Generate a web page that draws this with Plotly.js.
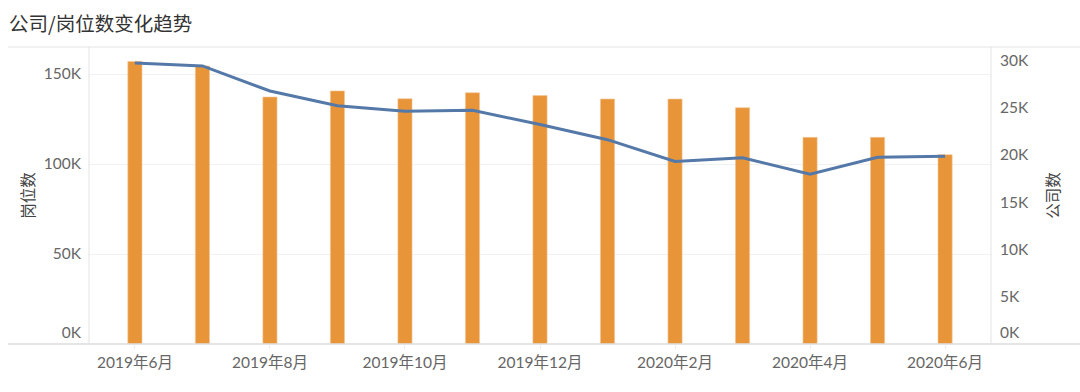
<!DOCTYPE html>
<html>
<head>
<meta charset="utf-8">
<script src="https://cdn.plot.ly/plotly-3.0.1.min.js"></script>
<style>html,body{margin:0;padding:0;background:#fff;}#chart{width:1080px;height:392px;}</style>
</head>
<body>
<div id="chart"></div>
<script>
const months = ['2019年6月','2019年7月','2019年8月','2019年9月','2019年10月','2019年11月','2019年12月','2020年1月','2020年2月','2020年3月','2020年4月','2020年5月','2020年6月'];
const jobCounts = [157000,154500,137200,140600,136300,139600,138000,136100,136100,131300,114800,114800,105200];
const companyCounts = [29700,29400,26750,25200,24600,24700,23200,21600,19300,19700,17950,19750,19850];
const xTickLabels = ['2019年6月','2019年8月','2019年10月','2019年12月','2020年2月','2020年4月','2020年6月'];
const leftTicks = [50000,100000,150000];
const leftTickText = ['50K','100K','150K'];
const rightTicks = [5000,10000,15000,20000,25000,30000];
const rightTickText = ['5K','10K','15K','20K','25K','30K'];
const zeroTick = [0];
const zeroTickText = ['0K'];

const FONT = 'Lato, "Noto Sans CJK SC", "Noto Sans", sans-serif';
const lineCol = '#e3e3e3';
const TICKFONT = {size:15.5, color:'#666'};

const traces = [
  {type:'bar', x: months, y: jobCounts, name:'岗位数', width:0.21,
   marker:{color:'#e8953a', line:{color:'#f3c89b', width:0.6}}, yaxis:'y'},
  {type:'scatter', mode:'lines', x: months, y: companyCounts, name:'公司数', yaxis:'y2',
   line:{color:'#5479a8', width:3}},
  {type:'scatter', mode:'markers', x:[months[0]], y:zeroTick, yaxis:'y3', marker:{opacity:0}, hoverinfo:'skip'},
  {type:'scatter', mode:'markers', x:[months[0]], y:zeroTick, yaxis:'y4', marker:{opacity:0}, hoverinfo:'skip'}
];

const layout = {
  width:1080, height:392,
  margin:{l:89, r:89, t:47, b:48, pad:0},
  paper_bgcolor:'#fff', plot_bgcolor:'#fff',
  showlegend:false,
  font:{family:FONT, color:'#666', size:15},
  title:{text:'公司/岗位数变化趋势', font:{family:'"Noto Sans CJK SC", sans-serif', size:19.5, color:'#333'},
         xref:'container', yref:'container', x:9/1080, xanchor:'left', y:1-24/392, yanchor:'middle'},
  xaxis:{type:'category', categoryorder:'array', categoryarray: months,
         range:[-0.68, 12.68], tickvals: xTickLabels, ticktext: xTickLabels,
         showgrid:false, zeroline:false, showline:false, ticks:'outside', ticklen:4, tickcolor:'#ececec',
         tickfont:TICKFONT},
  yaxis:{range:[0,165000], tickvals:leftTicks, ticktext:leftTickText, showgrid:true, gridcolor:'#f1f1f1',
         gridwidth:1, zeroline:false, showline:false, ticks:'', ticklabelstandoff:7,
         tickfont:TICKFONT,
         title:{text:'岗位数', font:{size:15.5, color:'#444', family:'"Noto Sans CJK SC", sans-serif'}, standoff:5}},
  yaxis2:{range:[0,31400], overlaying:'y', side:'right', tickvals:rightTicks, ticktext:rightTickText,
          showgrid:false, zeroline:false, showline:false, ticks:'', ticklabelstandoff:8,
          tickfont:TICKFONT,
          title:{text:'公司数', font:{size:15.5, color:'#444', family:'"Noto Sans CJK SC", sans-serif'}, standoff:20}},
  yaxis3:{range:[0,165000], overlaying:'y', side:'left', tickvals:zeroTick, ticktext:zeroTickText,
          showgrid:false, zeroline:false, showline:false, ticks:'', ticklabelstandoff:7, ticklabelshift:-11,
          tickfont:TICKFONT},
  yaxis4:{range:[0,31400], overlaying:'y', side:'right', tickvals:zeroTick, ticktext:zeroTickText,
          showgrid:false, zeroline:false, showline:false, ticks:'', ticklabelstandoff:8, ticklabelshift:-11,
          tickfont:TICKFONT},
  shapes:[
    {type:'line', xref:'paper', yref:'paper', x0:(8-89)/902, x1:(1080-89)/902, y0:1, y1:1, line:{color:lineCol, width:1}},
    {type:'line', xref:'paper', yref:'paper', x0:(8-89)/902, x1:(1080-89)/902, y0:0, y1:0, line:{color:'#dcdcdc', width:1.5}},
    {type:'line', xref:'paper', yref:'paper', x0:0, x1:0, y0:0, y1:1, line:{color:lineCol, width:1}},
    {type:'line', xref:'paper', yref:'paper', x0:1, x1:1, y0:0, y1:1, line:{color:lineCol, width:1}}
  ]
};

Plotly.newPlot('chart', traces, layout, {displayModeBar:false, staticPlot:true});
</script>
</body>
</html>
